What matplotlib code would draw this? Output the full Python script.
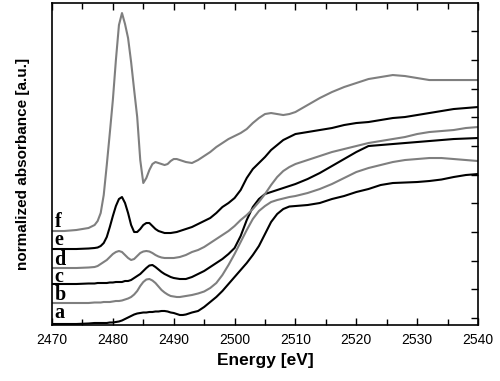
import matplotlib
matplotlib.use("Agg")
import matplotlib.pyplot as plt
from matplotlib.ticker import MultipleLocator, FixedLocator, NullFormatter

# ---- data (absorbance in arbitrary units) ----
energy = ([2470, 2472, 2474, 2476] +
          [2477.0, 2477.5, 2478.0, 2478.5, 2479.0, 2479.5, 2480.0, 2480.5, 2481.0, 2481.5,
           2482.0, 2482.5, 2483.0, 2483.5, 2484.0, 2484.5, 2485.0, 2485.5, 2486.0, 2486.5,
           2487.0, 2487.5, 2488.0, 2488.5, 2489.0, 2489.5, 2490.0, 2490.5, 2491.0, 2491.5,
           2492.0] +
          [2493, 2494, 2495, 2496, 2497, 2498, 2499, 2500, 2501, 2502, 2503, 2504, 2505,
           2506, 2507, 2508, 2509, 2510] +
          [2512, 2514, 2516, 2518, 2520, 2522, 2524, 2526, 2528, 2530, 2532, 2534, 2536,
           2538, 2540])

abs_a = [1, 1, 1, 1.5,
         2, 2, 2, 2, 2, 2.5, 2.5, 3, 3.5, 4.5,
         6, 7.5, 9, 10.5, 11.5, 12, 12.5, 12.5, 13, 13,
         13.5, 13.5, 14, 14, 13.5, 12.5, 12, 11, 10, 10,
         10.5,
         12.5, 14, 18, 23, 28, 34, 41, 48, 55, 62, 70, 79, 91,
         103, 111, 116, 118.5, 119,
         120, 122, 126, 129, 133, 136, 140, 142, 142.5, 143, 144, 145.5, 148,
         150, 151]

abs_b = [22, 22, 22, 22,
         22.5, 22.5, 22.5, 23, 23, 23, 23.5, 24, 24, 24.5,
         25.5, 26.5, 28, 30.5, 34, 39, 43, 45.5, 46, 44.5,
         42, 38.5, 35, 32.5, 30.5, 29, 28.5, 28, 28, 28.5,
         29,
         30, 31.5, 33.5, 37, 42, 50, 60, 71, 83, 95, 106, 114, 119,
         123, 125, 126.5, 128, 129,
         132, 136, 141, 147, 153, 157, 160, 163, 165, 166, 167, 167, 166,
         165, 164]

abs_c = [41, 41, 41, 41.5,
         41.5, 42, 42, 42, 42, 42.5, 42.5, 43, 43, 43,
         44, 44, 45, 47, 49, 51, 54, 57, 59.5, 60,
         58, 55.5, 53, 51, 49.5, 48, 47, 46.5, 46, 46,
         46,
         48, 51, 54, 58, 62, 66, 71, 77, 89, 105, 118, 126, 131,
         133, 135, 137, 139, 141,
         146, 152, 159, 166, 173, 179, 180, 181, 182, 183, 184, 185, 186,
         186.5, 187]

abs_d = [57, 57, 57, 57.5,
         58, 59, 61, 63, 65, 68, 71, 73, 74, 73,
         70, 67, 65, 66, 69, 72, 73.5, 74, 73.5, 72,
         70, 68.5, 67.5, 67, 67, 67, 67, 67.5, 68, 69,
         70,
         73, 75, 78, 82, 86, 90, 94, 99, 105, 110, 116, 123, 131,
         140, 148, 154, 158, 161,
         165, 169, 173, 176, 179, 182, 184, 186, 188, 191, 193, 194, 195,
         197, 198]

abs_e = [76, 76, 76, 76.5,
         77, 77.5, 79, 82, 88, 98, 109, 119, 126, 128,
         122, 112, 100, 93, 93, 96, 100, 102, 102, 99,
         96, 94, 93, 92, 92, 92, 92.5, 93, 94, 95,
         96,
         98, 101, 104, 107, 112, 118, 122, 127, 135, 147, 156, 162, 168,
         175, 180, 185, 188, 191,
         193, 195, 197, 200, 202, 203, 205, 207, 208, 210, 212, 214, 216,
         217, 218]

abs_f = [94, 94, 95, 97,
         100, 104, 112, 130, 160, 192, 225, 265, 300, 312,
         301, 287, 263, 235, 208, 165, 142, 147, 155, 161,
         163, 162, 161, 160, 161, 164, 166, 166, 165, 164,
         163,
         162, 165, 169, 173, 178, 182, 186, 189, 192, 196, 202, 207, 211,
         212, 211, 210, 211, 213,
         220, 227, 233, 238, 242, 246, 248, 250, 249, 247, 245, 245, 245,
         245, 245]

labels = ["a", "b", "c", "d", "e", "f"]
label_y = [7, 25, 43, 60, 80, 98]          # baseline heights of the sample labels
xticks = [2470, 2480, 2490, 2500, 2510, 2520, 2530, 2540]
ytick_pos = [7, 36, 64, 93, 122, 150, 179, 208, 236, 265, 294]

GRAY = "#7f7f7f"
series = [(abs_a, "black"), (abs_b, GRAY), (abs_c, "black"),
          (abs_d, GRAY), (abs_e, "black"), (abs_f, GRAY)]

fig = plt.figure(figsize=(5.0, 3.81), dpi=100)
ax = fig.add_axes([0.104, 0.147, 0.852, 0.845])

for y, c in series:
    ax.plot(energy, y, color=c, lw=1.5, solid_joinstyle="round", solid_capstyle="round")

for lab, ly in zip(labels, label_y):
    ax.text(2470.4, ly, lab, fontsize=14.5, fontweight="bold",
            family="Liberation Serif", ha="left", va="baseline")

ax.set_xlim(2470, 2540)
ax.set_ylim(0, 322)
ax.xaxis.set_major_locator(FixedLocator(xticks))
ax.xaxis.set_minor_locator(MultipleLocator(5))
ax.yaxis.set_major_locator(FixedLocator(ytick_pos))
ax.yaxis.set_major_formatter(NullFormatter())
ax.tick_params(axis="x", which="both", direction="in", top=True, labeltop=False,
               labelsize=10, pad=6)
ax.tick_params(axis="x", which="major", length=5, width=1)
ax.tick_params(axis="x", which="minor", length=4, width=1)
ax.tick_params(axis="y", which="both", direction="in", left=False, right=True,
               labelleft=False, length=5, width=1)
for lab in ax.get_xticklabels():
    lab.set_family("Liberation Sans")
for s in ax.spines.values():
    s.set_linewidth(1.2)

ax.set_xlabel("Energy [eV]", fontsize=12.5, fontweight="bold", family="Liberation Sans",
              labelpad=4)
ax.set_ylabel("normalized absorbance [a.u.]", fontsize=11, fontweight="bold",
              family="Liberation Sans", labelpad=16)

fig.savefig("out.png", dpi=100)
